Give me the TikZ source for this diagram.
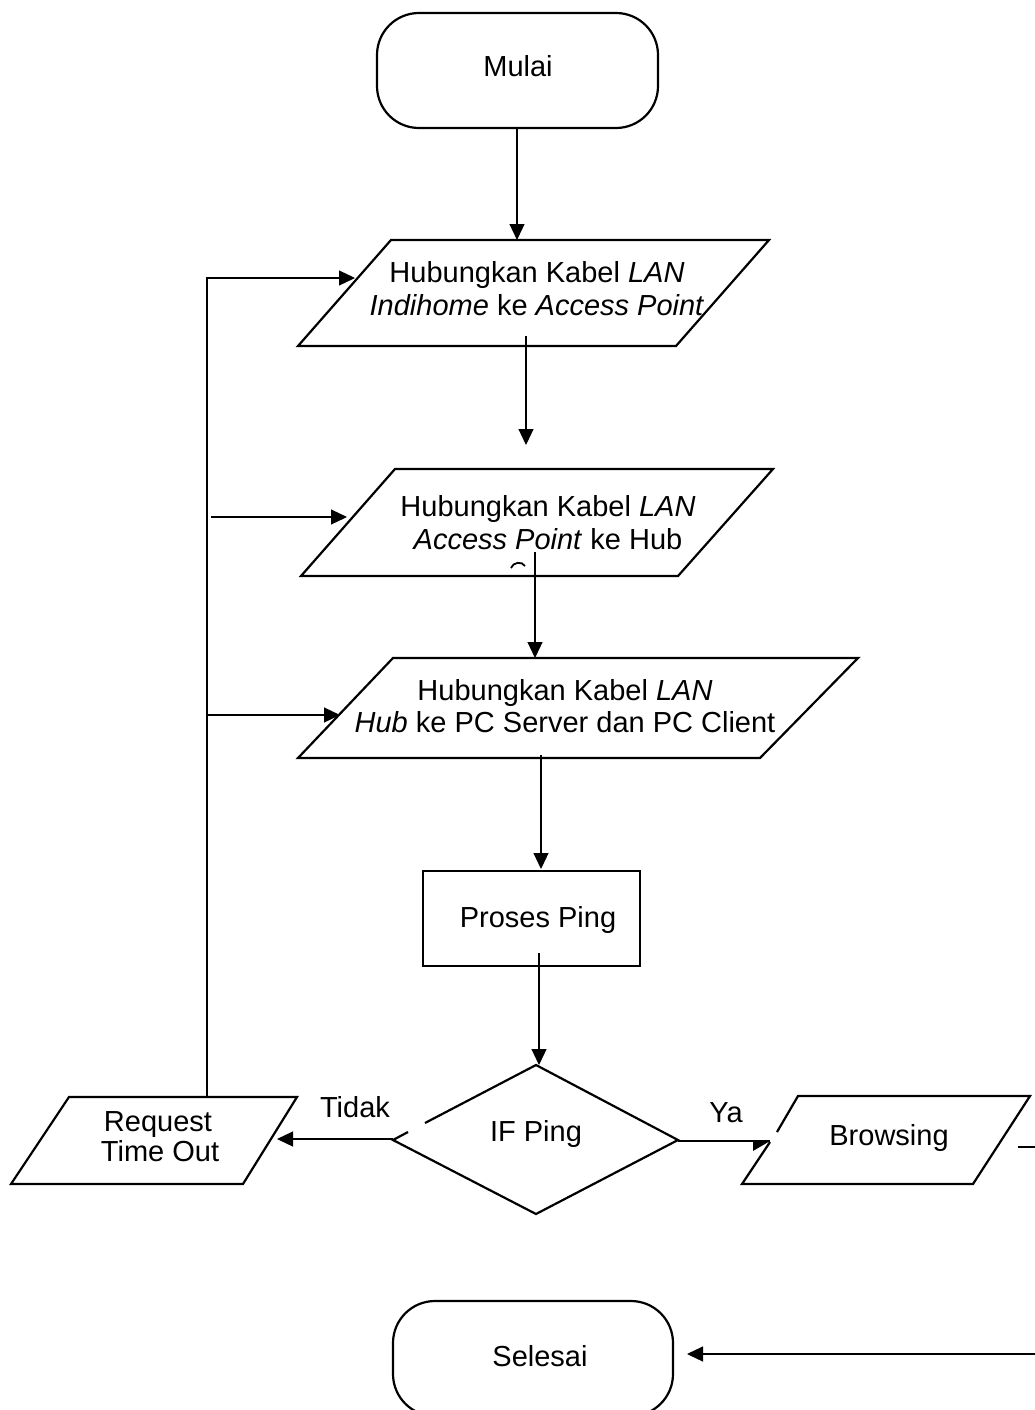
\documentclass[tikz,border=0pt]{standalone}
\usepackage{fontspec}
\setmainfont{Liberation Sans}
\usetikzlibrary{arrows.meta}
\begin{document}
\begin{tikzpicture}[x=1pt,y=-1pt,
  outline/.style={line width=2.2pt,line join=miter},
  terminal/.style={outline,rounded corners=42pt},
  conn/.style={line width=1.2pt},
  arr/.style={conn,-{Triangle[length=16pt,width=15pt]}},
  txt/.style={anchor=base,inner sep=0pt,font=\fontsize{29}{33}\selectfont}]
\useasboundingbox (0,0) rectangle (1035,1410);
\clip (0,0) rectangle (1035,1410);
% ---- shapes ----
\draw[terminal] (377,13) rectangle (658,128);
\draw[outline] (391,240) -- (769,240) -- (676,346) -- (298,346) -- cycle;
\draw[outline] (395,469) -- (773,469) -- (678,576) -- (301,576) -- cycle;
\draw[outline] (393,658) -- (858,658) -- (760,758) -- (298,758) -- cycle;
\draw[outline] (423,871) rectangle (640,966);
\draw[outline] (408,1132) -- (393,1140) -- (536,1214) -- (678,1140) -- (536,1065) -- (425,1123);
\draw[outline] (69,1097) -- (297,1097) -- (243,1184) -- (11,1184) -- cycle;
\draw[outline] (777,1132) -- (798,1096) -- (1030,1096) -- (973,1184) -- (742,1184) -- (770,1142);
\draw[terminal] (393,1301) rectangle (673,1416);
% stray glyph fragment under second box
\draw[line width=1.8pt] (511,568) .. controls (513,562) and (522,561) .. (525,566);
% ---- texts ----
\node[txt] (mulai) at (518,77) {Mulai};
\node[txt] (p1a) at (537,282) {Hubungkan Kabel \textit{LAN}};
\node[txt] (p1b) at (537,315) {\textit{Indihome} ke \textit{Access Point}};
\node[txt] (p2a) at (548,516) {Hubungkan Kabel \textit{LAN}};
\node[txt] (p2b) at (548,549) {\textit{Access Point} ke Hub};
\node[txt] (p3a) at (565,700) {Hubungkan Kabel \textit{LAN}};
\node[txt] (p3b) at (565,732) {\textit{Hub} ke PC Server dan PC Client};
\node[txt] (proses) at (538,927) {Proses Ping};
\node[txt] (ifping) at (536,1141) {IF Ping};
\node[txt] (rto1) at (158,1131) {Request};
\node[txt] (rto2) at (160,1161) {Time Out};
\node[txt] (tidak) at (355,1117) {Tidak};
\node[txt] (ya) at (726,1122) {Ya};
\node[txt] (browsing) at (889,1145) {Browsing};
\node[txt] (selesai) at (540,1366) {Selesai};
% ---- connector end points ----
\coordinate (m1) at (517,128);  \coordinate (m2) at (517,240);
\coordinate (a1) at (526,336);  \coordinate (a2) at (526,445);
\coordinate (b1) at (535,552);  \coordinate (b2) at (535,658);
\coordinate (c1) at (541,755);  \coordinate (c2) at (541,869);
\coordinate (d1) at (539,953);  \coordinate (d2) at (539,1065);
\coordinate (e1) at (393,1139); \coordinate (e2) at (277,1139);
\coordinate (f1) at (678,1141); \coordinate (f2) at (770,1141);
\coordinate (g1) at (1018,1147); \coordinate (g2) at (1050,1147);
\coordinate (g3) at (1050,1354); \coordinate (g4) at (687,1354);
\coordinate (h0) at (207,1097); \coordinate (h1) at (207,278); \coordinate (h2) at (355,278);
\coordinate (k1) at (211,517); \coordinate (k2) at (347,517);
\coordinate (l1) at (207,715); \coordinate (l2) at (340,715);
% ---- connectors ----
\draw[arr] (m1) -- (m2);
\draw[arr] (a1) -- (a2);
\draw[arr] (b1) -- (b2);
\draw[arr] (c1) -- (c2);
\draw[arr] (d1) -- (d2);
\draw[arr] (e1) -- (e2);
\draw[conn] (f1) -- (f2);
\fill (753,1140.4) -- (f2) -- (753,1151) -- cycle;
\draw[arr] (g1) -- (g2) -- (g3) -- (g4);
\draw[arr] (h0) -- (h1) -- (h2);
\draw[arr] (k1) -- (k2);
\draw[arr] (l1) -- (l2);
\end{tikzpicture}
\end{document}
